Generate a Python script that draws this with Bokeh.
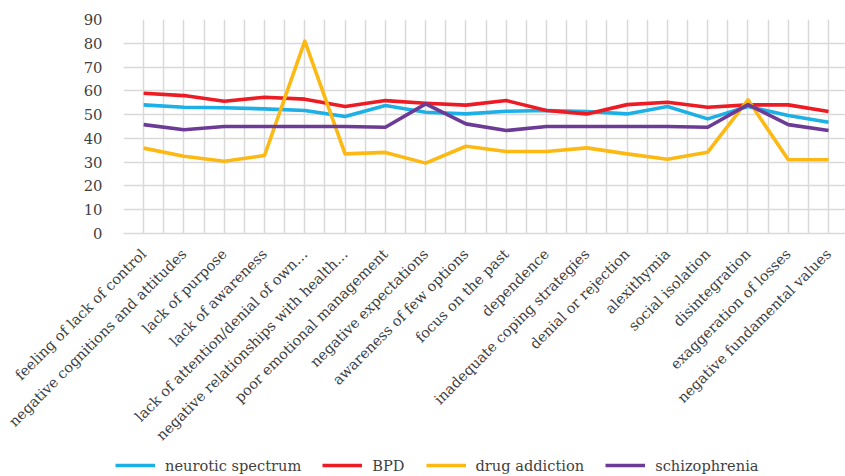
from bokeh.plotting import figure
from bokeh.models import Range1d, FixedTicker, Legend, LegendItem
from bokeh.layouts import column
from bokeh.embed import file_html
from bokeh.resources import INLINE
import math

categories = [
    "feeling of lack of control",
    "negative cognitions and attitudes",
    "lack of purpose",
    "lack of awareness",
    "lack of attention/denial of own\u2026",
    "negative relationships with health\u2026",
    "poor emotional management",
    "negative expectations",
    "awareness of few options",
    "focus on the past",
    "dependence",
    "inadequate coping strategies",
    "denial or rejection",
    "alexithymia",
    "social isolation",
    "disintegration",
    "exaggeration of losses",
    "negative fundamental values",
]

neurotic_spectrum = [54.1, 53.1, 52.9, 52.4, 51.7, 49.2, 53.8, 51.0, 50.3, 51.4, 51.7, 51.3, 50.3, 53.4, 48.2, 53.4, 49.6, 46.8]
bpd = [59.0, 58.0, 55.6, 57.3, 56.5, 53.4, 55.9, 54.8, 54.0, 55.9, 51.7, 50.3, 54.2, 55.2, 53.1, 54.1, 54.1, 51.3]
drug_addiction = [35.9, 32.5, 30.4, 32.8, 80.9, 33.5, 34.1, 29.6, 36.7, 34.5, 34.5, 36.0, 33.5, 31.2, 34.2, 56.2, 31.0, 31.0]
schizophrenia = [45.8, 43.6, 45.0, 45.0, 45.0, 45.0, 44.7, 54.5, 46.1, 43.3, 45.0, 45.0, 45.0, 45.0, 44.7, 54.2, 45.8, 43.3]

series_names = ["neurotic spectrum", "BPD", "drug addiction", "schizophrenia"]
series_values = [neurotic_spectrum, bpd, drug_addiction, schizophrenia]
series_colors = ["#1cb0e6", "#ed1c24", "#fdb913", "#6c3b96"]

y_ticks = list(range(0, 91, 10))

FONT = "DejaVu Serif"
TEXT = "#3f3f3f"
GRID = "#d9d9d9"
LW = 3.6

x = list(range(len(categories)))

p = figure(width=845, height=453, output_backend="svg", toolbar_location=None,
           x_range=Range1d(-0.5, 17.42), y_range=Range1d(0, 90),
           min_border_left=123, min_border_right=0, min_border_top=19, min_border_bottom=220)
p.frame_align = False
p.outline_line_color = None
p.background_fill_color = "white"

for vals, col in zip(series_values, series_colors):
    p.line(x, vals, line_color=col, line_width=LW, line_join="round")

p.xaxis.ticker = FixedTicker(ticks=x)
p.xaxis.major_label_overrides = {i: c for i, c in enumerate(categories)}
p.xaxis.major_label_orientation = math.pi / 4
p.xaxis.major_tick_line_color = None
p.xaxis.minor_tick_line_color = None
p.xaxis.axis_line_color = GRID
p.xaxis.axis_line_width = 1.5
p.xaxis.major_label_text_font = FONT
p.xaxis.major_label_text_font_size = "14.4px"
p.xaxis.major_label_text_color = TEXT
p.xaxis.major_label_standoff = 12

p.yaxis.ticker = FixedTicker(ticks=y_ticks)
p.yaxis.major_tick_line_color = None
p.yaxis.minor_tick_line_color = None
p.yaxis.axis_line_color = None
p.yaxis.major_label_text_font = FONT
p.yaxis.major_label_text_font_size = "14.8px"
p.yaxis.major_label_text_color = TEXT
p.yaxis.major_label_standoff = 15

p.xgrid.ticker = FixedTicker(ticks=[i * 0.5 - 0.5 for i in range(37)])
p.xgrid.grid_line_color = GRID
p.xgrid.grid_line_width = 1.5
p.ygrid.grid_line_color = GRID
p.ygrid.grid_line_width = 1.5

# legend strip below the chart
lg = figure(width=845, height=22, output_backend="svg", toolbar_location=None,
            x_range=Range1d(0, 845), y_range=Range1d(0, 22),
            x_axis_type=None, y_axis_type=None,
            min_border_left=0, min_border_right=0, min_border_top=0, min_border_bottom=0)
lg.frame_align = False
lg.outline_line_color = None
lg.xgrid.visible = False
lg.ygrid.visible = False

nan = float("nan")
items = []
for name, col in zip(series_names, series_colors):
    r = lg.line(x=[nan], y=[nan], line_color=col, line_width=LW)
    items.append(LegendItem(label=name, renderers=[r]))

legend = Legend(items=items, orientation="horizontal", location=(115, 1.3),
                glyph_width=40, glyph_height=16, label_height=16, label_standoff=10, spacing=21,
                label_text_font=FONT, label_text_font_size="14.6px", label_text_color=TEXT,
                border_line_color=None, background_fill_alpha=0, margin=0, padding=0)
lg.add_layout(legend, "center")

layout = column(p, lg, spacing=0)
open("out.html", "w").write(file_html(layout, INLINE))
